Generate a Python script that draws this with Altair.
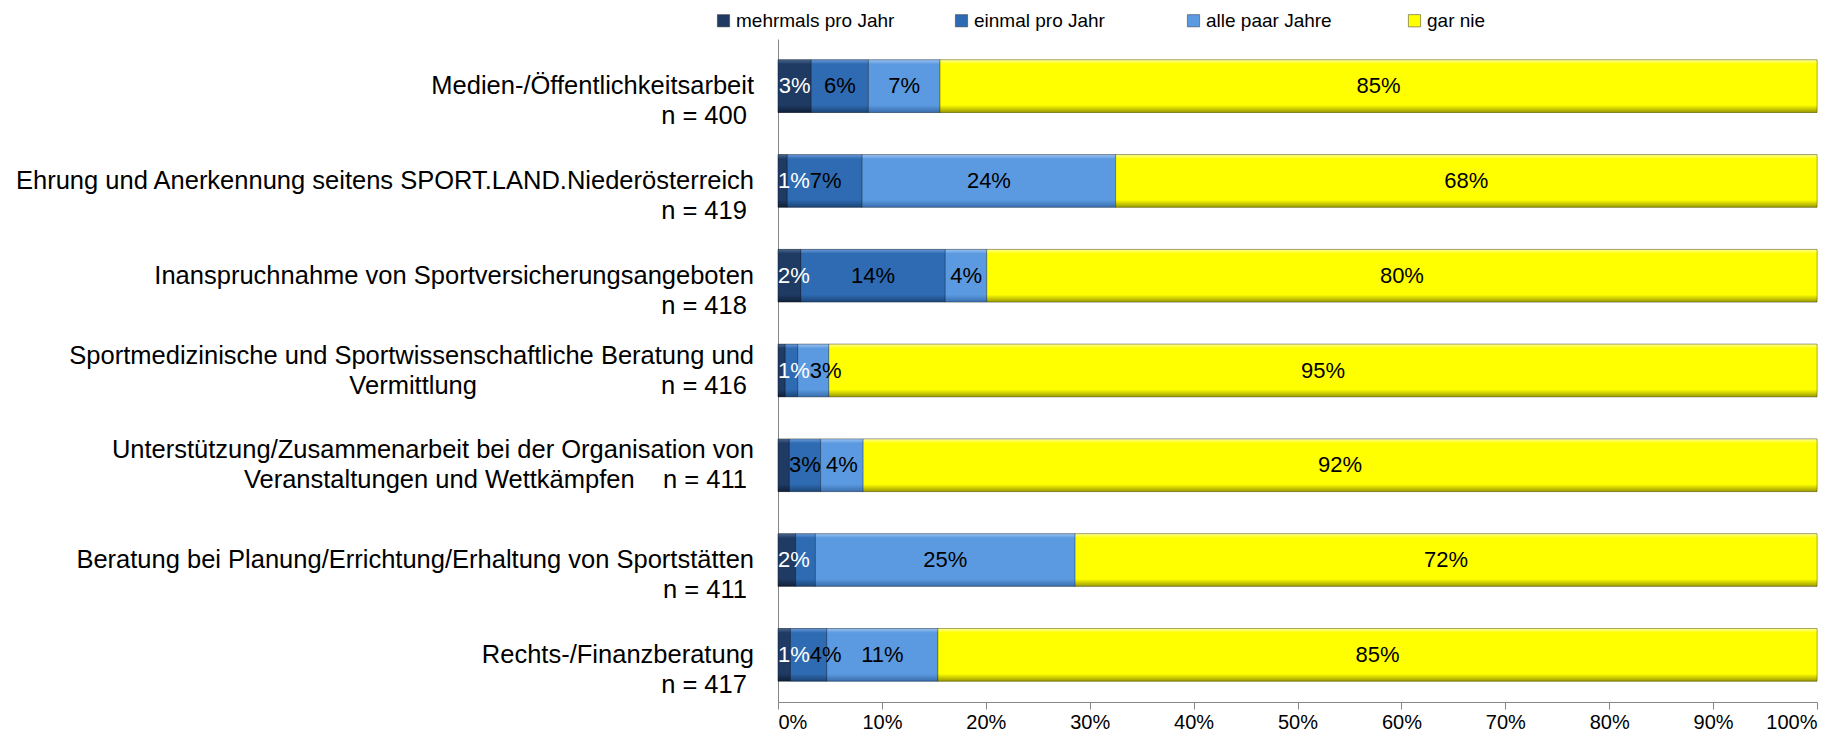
import altair as alt
import pandas as pd

categories = [
    "Medien-/Öffentlichkeitsarbeit",
    "Ehrung und Anerkennung seitens SPORT.LAND.Niederösterreich",
    "Inanspruchnahme von Sportversicherungsangeboten",
    "Sportmedizinische und Sportwissenschaftliche Beratung und\nVermittlung",
    "Unterstützung/Zusammenarbeit bei der Organisation von\nVeranstaltungen und Wettkämpfen",
    "Beratung bei Planung/Errichtung/Erhaltung von Sportstätten",
    "Rechts-/Finanzberatung",
]
n_values = [400, 419, 418, 416, 411, 411, 417]
series = ["mehrmals pro Jahr", "einmal pro Jahr", "alle paar Jahre", "gar nie"]

mehrmals = [3.2, 0.9, 2.2, 0.7, 1.1, 1.7, 1.2]
einmal = [5.5, 7.2, 13.9, 1.2, 3.0, 1.9, 3.5]
alle_paar = [6.9, 24.4, 4.0, 3.0, 4.1, 25.0, 10.7]
gar_nie = [84.4, 67.5, 79.9, 95.1, 91.8, 71.4, 84.6]

labels_mehrmals = ["3%", "1%", "2%", "1%", "", "2%", "1%"]
labels_einmal = ["6%", "7%", "14%", "", "3%", "", "4%"]
labels_alle = ["7%", "24%", "4%", "3%", "4%", "25%", "11%"]
labels_gar = ["85%", "68%", "80%", "95%", "92%", "72%", "85%"]

colors = ["#1F3A63", "#2E6BB2", "#5B9AE0", "#FFFF00"]
light = ["#4A6790", "#6A9ADA", "#9CC4F2", "#FFFF99"]
dark = ["#10213A", "#1C4678", "#3A6FAE", "#9A9A00"]
x_ticks = [0, 0.1, 0.2, 0.3, 0.4, 0.5, 0.6, 0.7, 0.8, 0.9, 1.0]

PLOT_W = 1039
PLOT_H = 663
AXIS_FS = 25.5
LABEL_FS = 22
LEGEND_FS = 19
LEGEND_SLOTS = [195, 189, 180]

# --- text width helper (Arial / Liberation Sans advance widths, 1/1000 em)
NBSP = "\u00a0"
ZW = "\u200b"   # zero-width guard so padding is not trimmed
W = {" ": 278, NBSP: 278, ZW: 0, "/": 278, "-": 333, ".": 278, "=": 584, "%": 889}
for ch in "abdeghnopqu": W[ch] = 556
for ch in "ckszvxy": W[ch] = 500
for ch in "ijl": W[ch] = 222
W.update({"f": 278, "t": 278, "r": 333, "m": 833, "w": 722, "ä": 556, "ö": 556, "ü": 556})
W.update({"A": 667, "B": 667, "C": 722, "D": 722, "E": 667, "F": 611, "G": 778, "H": 722,
          "I": 278, "J": 500, "K": 667, "L": 556, "M": 833, "N": 722, "O": 778, "P": 667,
          "R": 722, "S": 667, "T": 611, "U": 722, "V": 667, "W": 944, "Z": 611, "Ö": 778})
for ch in "0123456789": W[ch] = 556


def tw(s, fs=1000):
    return sum(W.get(c, 556) for c in s) * fs / 1000.0


# --- category label table (multi-line text, "|" = line break)
cat_rows = []
for i, (name, n) in enumerate(zip(categories, n_values)):
    lines = name.split("\n")
    ntext = f"n = {n}"
    if len(lines) == 1:
        txt = lines[0] + "|" + ntext + NBSP + ZW
    else:
        rest = (tw(lines[0]) - tw(lines[1])) / 2
        k = max(1, round((rest - tw(ntext) - tw(NBSP)) / tw(NBSP)))
        txt = lines[0] + "|" + lines[1] + NBSP * k + ntext + NBSP + ZW
    cat_rows.append({"cat": categories[i], "text": txt, "nlines": len(lines)})
cat_df = pd.DataFrame(cat_rows)

# --- data table with stacked extents and label positions
rows = []
for i in range(len(categories)):
    vals = [mehrmals[i], einmal[i], alle_paar[i], gar_nie[i]]
    labs = [labels_mehrmals[i], labels_einmal[i], labels_alle[i], labels_gar[i]]
    total = sum(vals)
    cum = 0.0
    prev_right = 0.0
    for j, s in enumerate(series):
        start = cum / total
        cum += vals[j]
        end = cum / total
        mid = (start + end) / 2
        lx = mid
        if labs[j]:
            w = tw(labs[j], LABEL_FS) / PLOT_W
            left = max(0.0, mid - w / 2, prev_right)
            lx = left + w / 2
            prev_right = left + w
        rows.append({"cat": categories[i], "series": s, "idx": j,
                     "start": start, "end": end, "lx": lx, "label": labs[j]})
df = pd.DataFrame(rows)

# --- legend labels padded to slot widths
legend_expr = "datum.label"
for s, slot in reversed(list(zip(series[:-1], LEGEND_SLOTS))):
    k = max(0, round((slot - tw(s, LEGEND_FS)) / tw(NBSP, LEGEND_FS)))
    legend_expr = f"datum.label == '{s}' ? '{s + NBSP * k + ZW}' : ({legend_expr})"

y_scale = alt.Scale(domain=categories, paddingInner=0.445, paddingOuter=0.22)
y_enc = alt.Y("cat:N", sort=categories, scale=y_scale,
              axis=alt.Axis(title=None, labels=False, ticks=False,
                            domainColor="#868686"))
y_plain = alt.Y("cat:N", sort=categories)

x_enc = alt.X("start:Q", scale=alt.Scale(domain=[0, 1], nice=False),
              axis=alt.Axis(title=None, format=".0%", values=x_ticks, grid=False,
                            tickSize=7, tickColor="#868686", domainColor="#868686",
                            labelFontSize=20, labelColor="black", labelPadding=3,
                            labelFont="Liberation Sans"))

base = alt.Chart(df)

bars = base.mark_bar(stroke="#000000", strokeOpacity=0.25, strokeWidth=1).encode(
    x=x_enc,
    x2="end:Q",
    y=y_enc,
    color=alt.Color("series:N", sort=series,
                    scale=alt.Scale(domain=series, range=colors),
                    legend=alt.Legend(title=None, orient="none", legendX=-64, legendY=-28,
                                      direction="horizontal", columns=4,
                                      labelFontSize=LEGEND_FS, labelFont="Liberation Sans",
                                      labelColor="black", columnPadding=20,
                                      labelLimit=400, labelExpr=legend_expr,
                                      symbolType="square", symbolSize=150,
                                      symbolStrokeColor="#333333", symbolStrokeWidth=0.5,
                                      labelOffset=3, padding=0)),
    order=alt.Order("idx:Q"),
)

# bevel-like shading on top of each series
shades = []
for j, s in enumerate(series):
    grad = alt.Gradient(gradient="linear", x1=0, x2=0, y1=0, y2=1,
                        stops=[alt.GradientStop(offset=0, color=light[j]),
                               alt.GradientStop(offset=0.08, color=colors[j]),
                               alt.GradientStop(offset=0.86, color=colors[j]),
                               alt.GradientStop(offset=1, color=dark[j])])
    shades.append(
        base.transform_filter(alt.datum.series == s)
        .mark_bar(color=grad, stroke="#000000", strokeOpacity=0.25, strokeWidth=1)
        .encode(x="start:Q", x2="end:Q", y=y_plain)
    )

texts = base.transform_filter(alt.datum.label != "").mark_text(
    fontSize=LABEL_FS, font="Liberation Sans", baseline="middle", align="center"
).encode(
    x="lx:Q",
    y=y_plain,
    text="label:N",
    color=alt.condition(alt.datum.idx == 0, alt.value("white"), alt.value("black")),
)

# category labels left of the axis (first line sits on the band centre)
cat_base = alt.Chart(cat_df)
cat_one = cat_base.transform_filter(alt.datum.nlines == 1).mark_text(
    align="right", baseline="middle", lineBreak="|", lineHeight=30,
    fontSize=AXIS_FS, font="Liberation Sans", color="black", dy=0
).encode(x=alt.value(-24), y=y_plain, text="text:N")
cat_two = cat_base.transform_filter(alt.datum.nlines == 2).mark_text(
    align="right", baseline="middle", lineBreak="|", lineHeight=30,
    fontSize=AXIS_FS, font="Liberation Sans", color="black", dy=-15
).encode(x=alt.value(-24), y=y_plain, text="text:N")

chart = alt.layer(bars, *shades, texts, cat_one, cat_two).properties(
    width=PLOT_W, height=PLOT_H,
    padding={"left": 770, "top": 31, "right": 22, "bottom": 34},
    autosize="none",
).configure(font="Liberation Sans").configure_view(stroke=None)

chart.save("out.html", embed_options={"renderer": "svg", "actions": False})
